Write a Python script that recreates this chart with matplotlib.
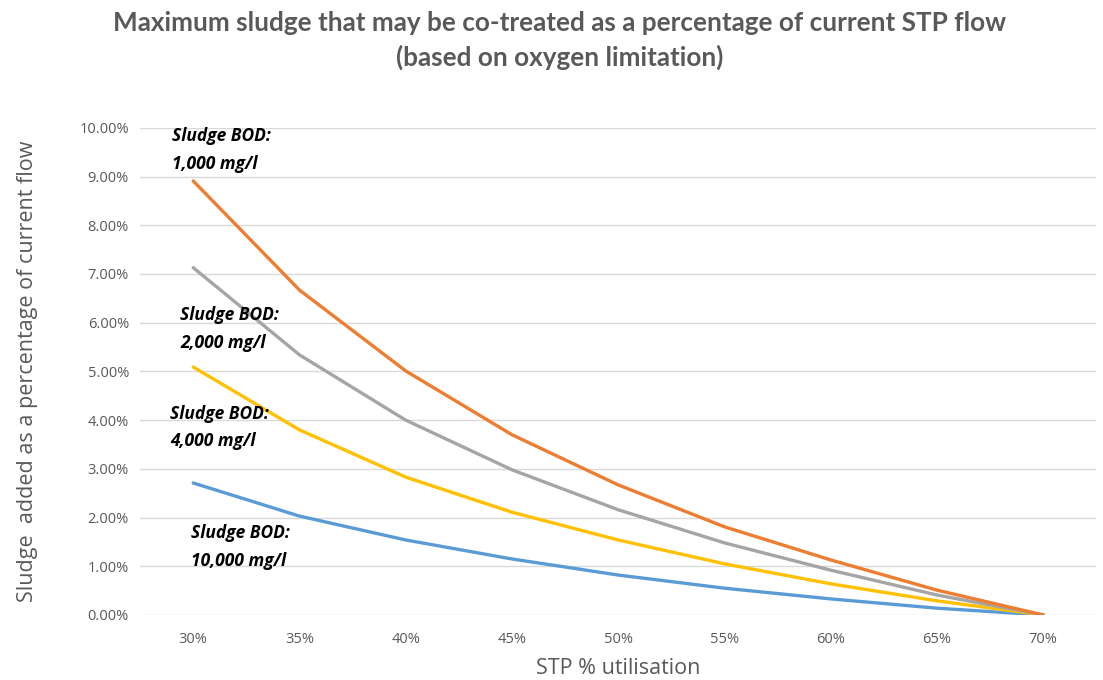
import matplotlib.pyplot as plt
from matplotlib.ticker import FuncFormatter

# STP utilisation categories
utilisation = ["30%", "35%", "40%", "45%", "50%", "55%", "60%", "65%", "70%"]

# max sludge as fraction of current flow, per sludge BOD
bod_1000 = [0.0891, 0.0667, 0.0501, 0.0370, 0.0267, 0.0181, 0.0113, 0.0051, 0.0]
bod_2000 = [0.0713, 0.0534, 0.0400, 0.0298, 0.0216, 0.0148, 0.0092, 0.0041, 0.0]
bod_4000 = [0.0509, 0.0380, 0.0283, 0.0211, 0.0154, 0.0105, 0.0064, 0.0029, 0.0]
bod_10000 = [0.0271, 0.0203, 0.0154, 0.0115, 0.0082, 0.0055, 0.0033, 0.0014, 0.0]

labels = ["Sludge BOD:\n1,000 mg/l", "Sludge BOD:\n2,000 mg/l",
          "Sludge BOD:\n4,000 mg/l", "Sludge BOD:\n10,000 mg/l"]

plt.rcParams['font.family'] = ['Open Sans', 'DejaVu Sans']

fig = plt.figure(figsize=(11.03, 6.8), dpi=100)
ax = fig.add_axes([0.127, 0.0956, 0.867, 0.7164])

x = list(range(len(utilisation)))
series = [(bod_10000, '#5B9BD5'), (bod_4000, '#FFC000'),
          (bod_2000, '#A5A5A5'), (bod_1000, '#ED7D31')]
for vals, col in series:
    ax.plot(x, vals, color=col, lw=2.4, solid_capstyle='round')

ax.set_xlim(-0.5, len(utilisation) - 0.5)
ax.set_ylim(0, 0.10)
ax.set_yticks([i / 100 for i in range(11)])
ax.yaxis.set_major_formatter(FuncFormatter(lambda v, p: f"{v * 100:.2f}%"))
ax.set_xticks(x)
ax.set_xticklabels(utilisation)
ax.grid(axis='y', color='#d9d9d9', lw=1)
ax.set_axisbelow(True)
for s in ax.spines.values():
    s.set_visible(False)
ax.tick_params(length=0, colors='#595959', labelsize=10.5)
ax.tick_params(axis='x', pad=12)
ax.tick_params(axis='y', pad=8)

ax.set_xlabel("STP % utilisation", fontsize=15.5, color='#595959', labelpad=8)
ax.set_ylabel("Sludge  added as a percentage of current flow", fontsize=15.5,
              color='#595959', labelpad=30)

title_font = ['Lato', 'DejaVu Sans']
fig.text(0.507, 0.966, "Maximum sludge that may be co-treated as a percentage of current STP flow",
         ha='center', va='center', fontsize=18.8, fontweight='bold', color='#595959',
         family=title_font)
fig.text(0.507, 0.915, "(based on oxygen limitation)",
         ha='center', va='center', fontsize=18.8, fontweight='bold', color='#595959',
         family=title_font)

# label positions in data coords (x index, y value of top line)
label_pos = [(-0.2, 0.1001), (-0.12, 0.0634), (-0.22, 0.0432), (-0.02, 0.0186)]
for txt, (lx, ly) in zip(labels, label_pos):
    ax.text(lx, ly, txt, fontsize=12.5, fontweight='bold', fontstyle='italic',
            va='top', ha='left', linespacing=1.7, color='black')

fig.savefig("out.png", dpi=100)
